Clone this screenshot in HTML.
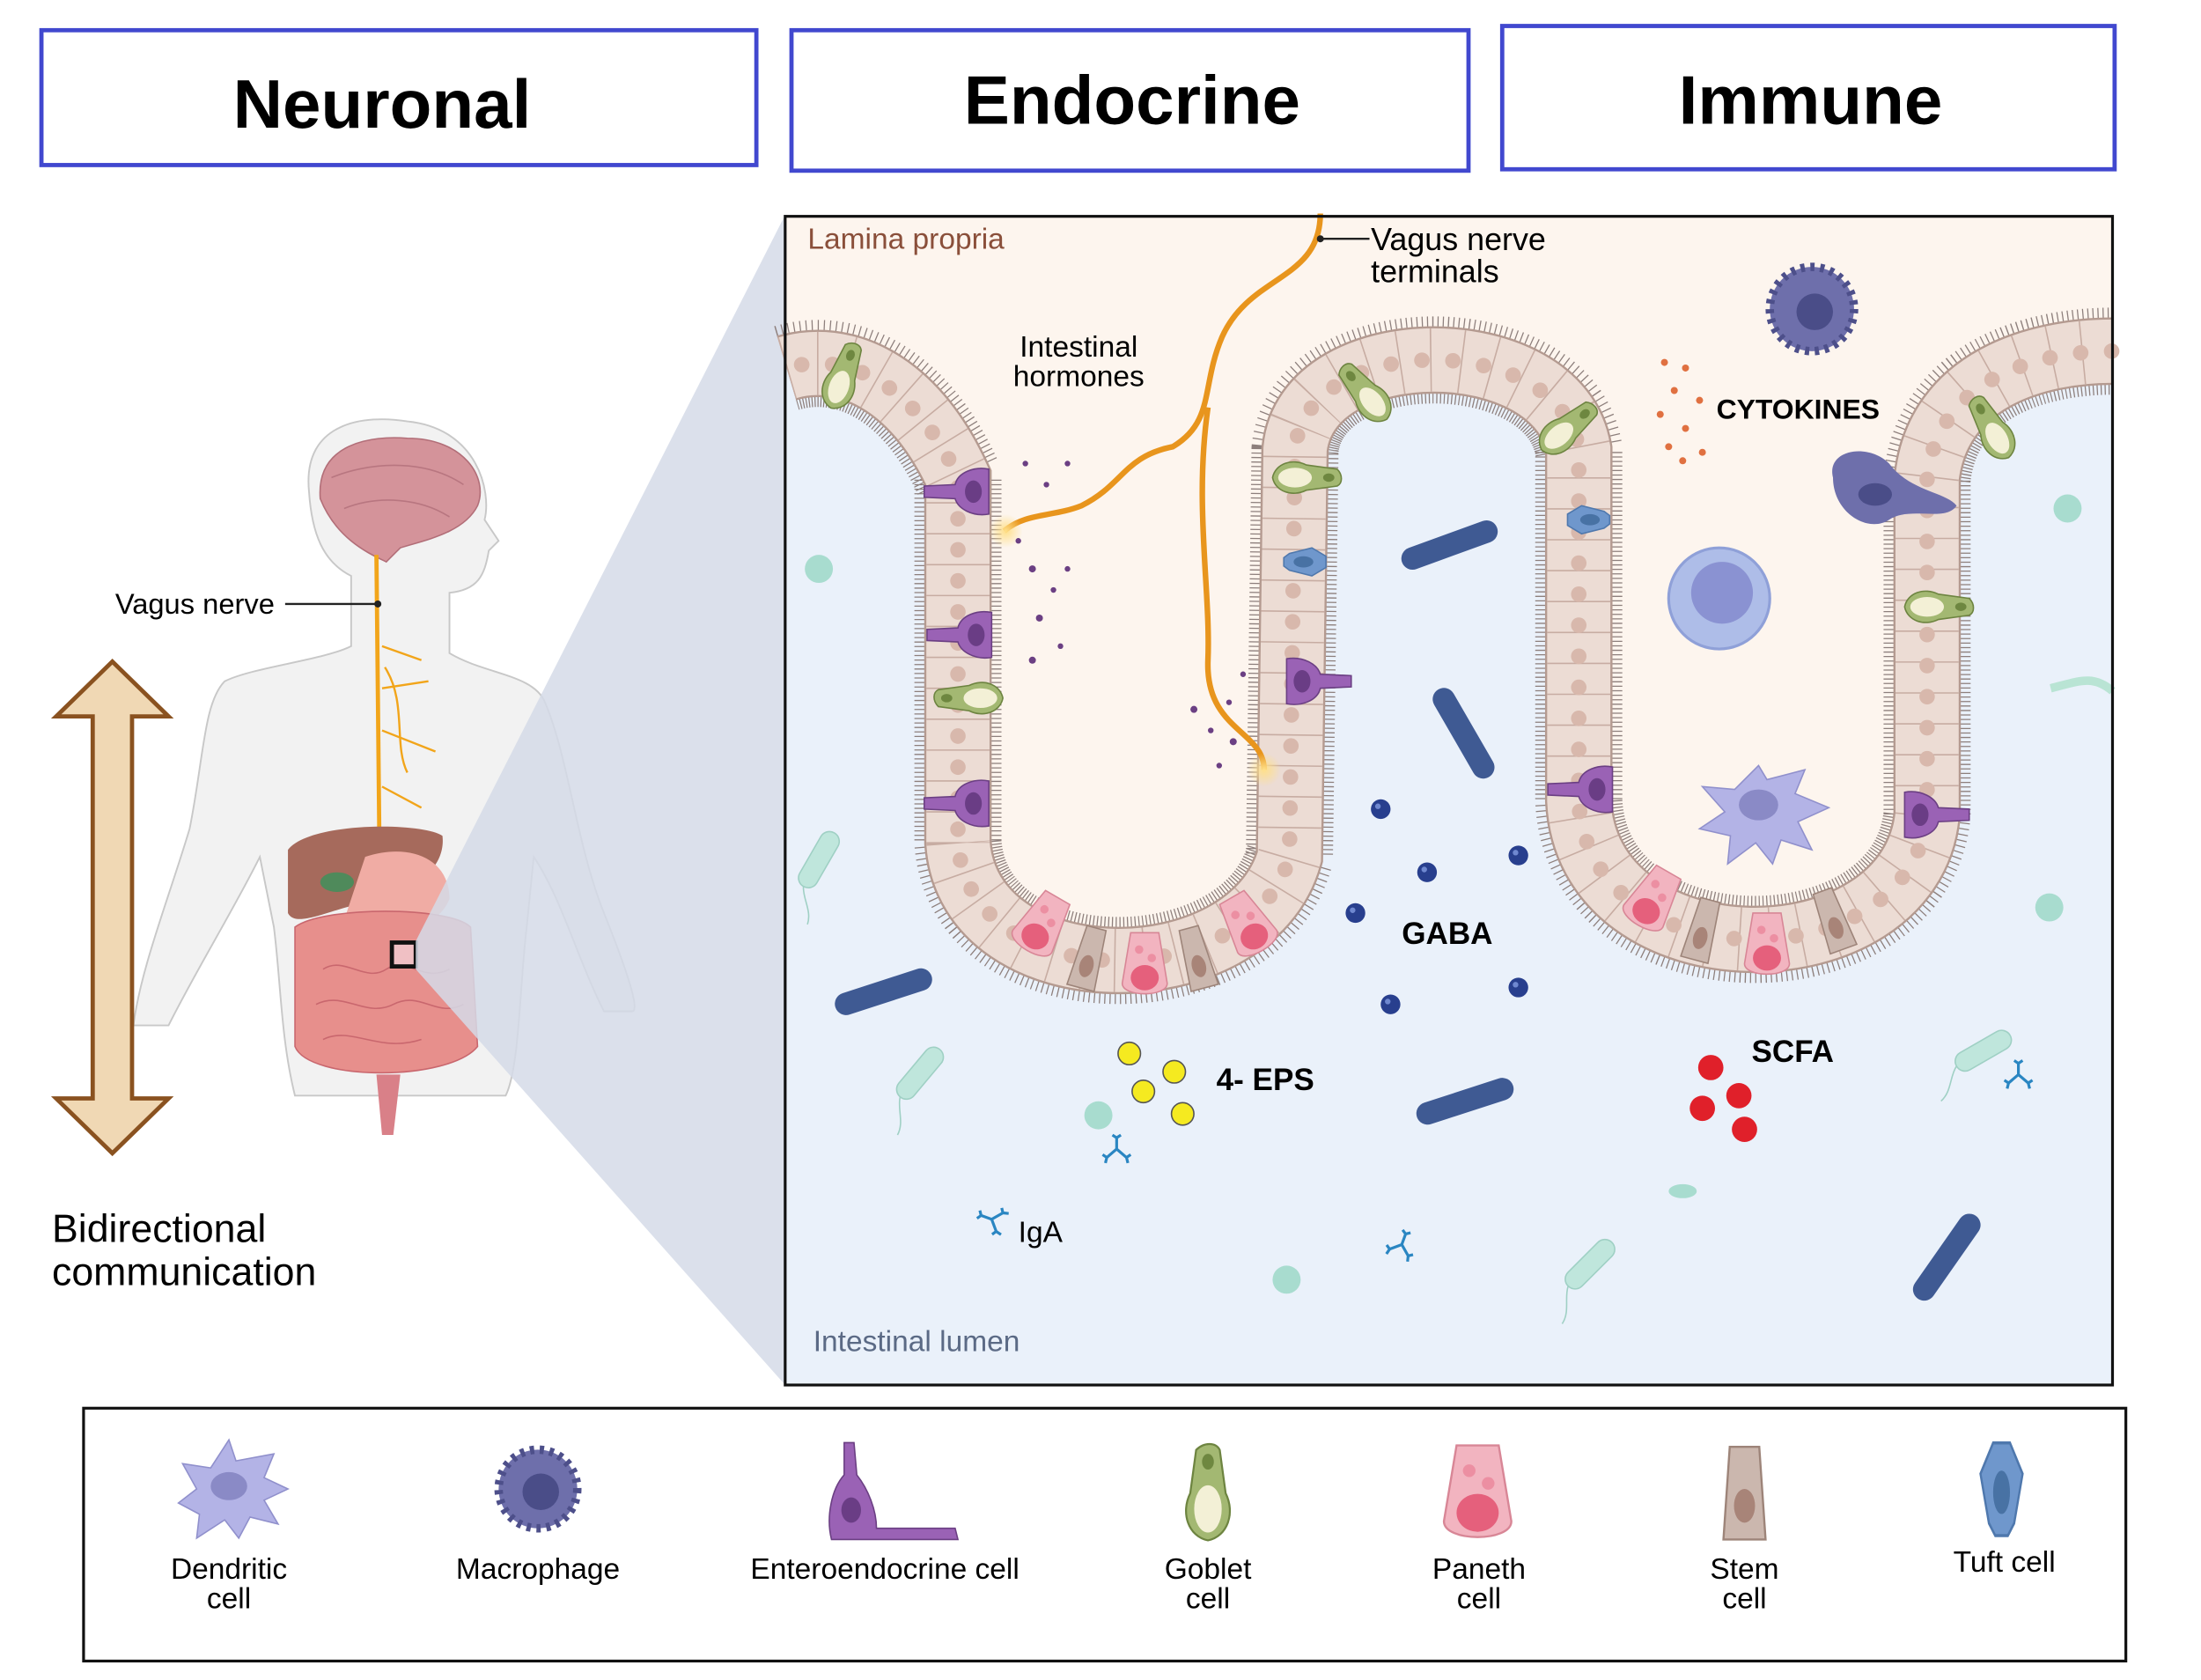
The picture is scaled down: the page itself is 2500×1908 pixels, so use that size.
<!DOCTYPE html>
<html><head><meta charset="utf-8"><style>
html,body{margin:0;padding:0;background:#fff;}
svg{display:block}
text{font-family:"Liberation Sans",sans-serif}
</style></head><body>
<svg width="2500" height="1908" viewBox="0 0 1567 1196" preserveAspectRatio="none" xmlns="http://www.w3.org/2000/svg">
<defs>
<radialGradient id="glow"><stop offset="0" stop-color="#ffe08a"/><stop offset="1" stop-color="#ffe08a" stop-opacity="0"/></radialGradient>
<g id="ee"><path d="M-4,-30 L4,-30 L5,-8 C14,-6 18,6 16,16 L-16,16 C-18,4 -12,-6 -5,-8 Z" fill="#9a62b5" stroke="#6b3f83" stroke-width="1"/><ellipse cx="0" cy="5" rx="8" ry="6" fill="#6a3d85"/></g>
<g id="gob"><path d="M-6,-22 C-2,-26 4,-26 6,-22 L9,0 C14,10 10,22 0,24 C-10,22 -14,10 -9,0 Z" fill="#a3b872" stroke="#6d8440" stroke-width="1"/><ellipse cx="0" cy="-16" rx="3" ry="4" fill="#6e8740"/><ellipse cx="0" cy="8" rx="7" ry="12" fill="#f3f0d6"/></g>
<g id="pan"><path d="M-10,-22 L10,-22 L16,14 C16,24 -16,24 -16,14 Z" fill="#f2b4c0" stroke="#d88696" stroke-width="1"/><circle cx="-4" cy="-10" r="3" fill="#ec8fa2"/><circle cx="5" cy="-4" r="3" fill="#ec8fa2"/><ellipse cx="0" cy="10" rx="10" ry="9" fill="#e5607c"/></g>
<g id="stem"><path d="M-7,-22 L7,-22 L10,22 L-10,22 Z" fill="#cbb7ae" stroke="#9d8479" stroke-width="1"/><ellipse cx="0" cy="6" rx="5" ry="8" fill="#a88478"/></g>
<g id="tuft"><path d="M-4,-14 L4,-14 L10,-4 L6,12 L3,16 L-3,16 L-6,12 L-10,-4 Z" fill="#6f97cc" stroke="#4f78ad" stroke-width="1"/><ellipse cx="0" cy="2" rx="4" ry="7" fill="#4872a4"/></g>
<g id="bac"><rect x="-36" y="-8" width="72" height="16" rx="8" fill="#3f5a93"/></g>
<g id="gb"><circle r="7" fill="#283f8e"/><circle cx="-2" cy="-2" r="2" fill="#6f88d0"/></g>
<g id="ab" stroke="#2a86c2" stroke-width="2" fill="none"><path d="M0,0 L0,-8 M0,0 L-7,6 M0,0 L7,6 M-3,-10 L0,-8 L3,-10 M-10,4 L-7,6 L-8,10 M10,4 L7,6 L8,10"/></g>
<g id="pbac"><rect x="-22" y="-7" width="44" height="14" rx="7" fill="#bfe6dc" stroke="#9fd0c4"/><path d="M-22,0 C-30,4 -34,14 -44,16" stroke="#9fd0c4" fill="none"/></g>
</defs>

<rect x="29.5" y="21.5" width="509" height="96" fill="#fff" stroke="#4148cf" stroke-width="3"/>
<text x="272" y="91" font-size="49" font-weight="bold" text-anchor="middle">Neuronal</text>
<rect x="563.5" y="21.5" width="482" height="100" fill="#fff" stroke="#4148cf" stroke-width="3"/>
<text x="806" y="88" font-size="49" font-weight="bold" text-anchor="middle">Endocrine</text>
<rect x="1069.5" y="18.5" width="436" height="102" fill="#fff" stroke="#4148cf" stroke-width="3"/>
<text x="1289" y="88" font-size="49" font-weight="bold" text-anchor="middle">Immune</text>

<path d="M220,350 C215,300 260,295 290,300 C340,305 350,350 345,370 L355,385 L348,392 C345,410 340,420 320,422 L320,465 C345,480 380,480 388,500 C405,540 410,600 430,650 C450,700 455,720 450,720 L430,720 C410,680 400,640 380,610 L375,660 C370,700 370,760 360,780 L210,780 C200,740 200,700 195,660 L185,610 C165,650 140,690 120,730 L95,730 C100,690 120,640 135,590 C145,540 145,500 160,485 C180,475 230,470 250,460 L250,410 C230,400 222,380 220,350 Z" fill="#f2f2f2" stroke="#c8c8c8" stroke-width="1.2"/>
<path d="M228,355 C225,315 265,310 290,312 C330,312 348,340 340,360 C330,380 300,385 285,390 L275,400 C265,395 240,385 228,355 Z" fill="#d4939a" stroke="#b26e78"/>
<path d="M236,340 C260,330 300,325 330,345 M245,362 C270,352 300,355 320,368" stroke="#b87680" fill="none"/>
<path d="M268,395 L270,590" stroke="#f2a51a" stroke-width="3" fill="none"/>
<path d="M272,460 L300,470 M272,490 L305,485 M272,520 L310,535 M272,560 L300,575 M274,475 C290,500 280,530 290,550" stroke="#f2a51a" stroke-width="1.5" fill="none"/>
<path d="M205,605 C220,585 300,585 315,595 C318,620 290,640 250,645 C230,650 210,660 205,650 Z" fill="#a66a5c"/>
<ellipse cx="240" cy="628" rx="12" ry="7" fill="#4f8a5b"/>
<path d="M260,610 C290,600 320,610 320,640 C310,665 270,670 245,655 C250,640 255,625 260,610 Z" fill="#f0aca4"/>
<path d="M210,660 C230,645 320,645 335,660 L340,745 C320,770 220,770 210,745 Z" fill="#e78f8c" stroke="#c9676e"/>
<path d="M230,690 C245,680 260,700 275,690 C290,680 300,700 320,690 M225,715 C245,705 260,725 280,715 C300,705 310,725 330,715 M230,740 C250,730 270,750 300,740" stroke="#c9676e" fill="none"/>
<path d="M268,765 L272,808 L280,808 L285,765 Z" fill="#d98088"/>
<rect x="279" y="671" width="17" height="17" fill="#f0c0c4" stroke="#111" stroke-width="3"/>
<line x1="203" y1="430" x2="267" y2="430" stroke="#222" stroke-width="1.5"/><circle cx="269" cy="430" r="2.5" fill="#222"/>
<text x="82" y="437" font-size="20.5">Vagus nerve</text>

<polygon points="296,670 559,153 559,986 296,690" fill="#d5dbe7" opacity="0.85"/>

<polygon points="80,471 120,510 94,510 94,782 120,782 80,821 40,782 66,782 66,510 40,510" fill="#f0d8b4" stroke="#8a5220" stroke-width="3" stroke-linejoin="miter"/>
<text x="37" y="884" font-size="28">Bidirectional</text>
<text x="37" y="915" font-size="28">communication</text>

<rect x="559" y="154" width="945" height="832" fill="#fdf5ee"/>
<path id="ep" d="M560,262 C600,250 650,270 682,340 L682,600 C690,710 890,710 918,610 L922,320 C930,235 1110,235 1124,320 L1124,570 C1130,700 1360,700 1372,580 L1372,340 C1380,270 1450,250 1504,250" fill="none"/>
<path d="M560,262 C600,250 650,270 682,340 L682,600 C690,710 890,710 918,610 L922,320 C930,235 1110,235 1124,320 L1124,570 C1130,700 1360,700 1372,580 L1372,340 C1380,270 1450,250 1504,250 L1504,986 L559,986 Z" fill="#eaf1fa"/>
<use href="#ep" stroke="#8d7f7c" stroke-width="62" stroke-dasharray="0.8 2.4"/>
<use href="#ep" stroke="#b49a90" stroke-width="48"/>
<use href="#ep" stroke="#ecdcd4" stroke-width="45"/>
<use href="#ep" stroke="#c7aca2" stroke-width="45" stroke-dasharray="1 21"/>
<use href="#ep" stroke="#d8b8ac" stroke-width="11" stroke-linecap="round" stroke-dasharray="0.1 22" stroke-dashoffset="-11"/>

<use href="#ee" transform="translate(688,350) rotate(-90)"/>
<use href="#ee" transform="translate(690,452) rotate(-90)"/>
<use href="#ee" transform="translate(688,572) rotate(-90)"/>
<use href="#ee" transform="translate(932,485) rotate(90)"/>
<use href="#ee" transform="translate(1132,562) rotate(-90)"/>
<use href="#ee" transform="translate(1372,580) rotate(90)"/>
<use href="#gob" transform="translate(600,268) rotate(20)"/>
<use href="#gob" transform="translate(690,497) rotate(-90)"/>
<use href="#gob" transform="translate(930,340) rotate(90)"/>
<use href="#gob" transform="translate(972,280) rotate(-40)"/>
<use href="#gob" transform="translate(1116,305) rotate(50)"/>
<use href="#gob" transform="translate(1380,432) rotate(90)"/>
<use href="#gob" transform="translate(1418,305) rotate(-30)"/>
<use href="#pan" transform="translate(742,658) rotate(30)"/>
<use href="#pan" transform="translate(815,686) rotate(0)"/>
<use href="#pan" transform="translate(888,658) rotate(-30)"/>
<use href="#pan" transform="translate(1177,640) rotate(30)"/>
<use href="#pan" transform="translate(1258,672)"/>
<use href="#stem" transform="translate(775,682) rotate(15)"/>
<use href="#stem" transform="translate(852,682) rotate(-15)"/>
<use href="#stem" transform="translate(1212,662) rotate(15)"/>
<use href="#stem" transform="translate(1305,655) rotate(-20)"/>
<use href="#tuft" transform="translate(930,400) rotate(90)"/>
<use href="#tuft" transform="translate(1130,370) rotate(-90)"/>

<path d="M940,152 C940,200 890,195 870,240 C855,275 865,300 835,318 C800,325 800,345 770,360 C750,368 730,365 715,378" stroke="#e8951d" stroke-width="4" fill="none"/>
<path d="M860,290 C850,360 862,420 860,470 C858,520 900,520 900,548" stroke="#e8951d" stroke-width="4" fill="none"/>
<circle cx="716" cy="378" r="12" fill="url(#glow)"/><circle cx="900" cy="548" r="12" fill="url(#glow)"/>
<line x1="940" y1="170" x2="975" y2="170" stroke="#222" stroke-width="1.5"/><circle cx="940" cy="170" r="2.5" fill="#222"/>
<text x="976" y="178" font-size="22.5">Vagus nerve</text><text x="976" y="201" font-size="22.5">terminals</text>
<text x="768" y="254" font-size="21" text-anchor="middle">Intestinal</text><text x="768" y="275" font-size="21" text-anchor="middle">hormones</text>
<text x="575" y="177" font-size="21" fill="#8a4f3a">Lamina propria</text>
<text x="579" y="962" font-size="21" fill="#5b6a85">Intestinal lumen</text>
<g fill="#6b3f83">
<circle cx="730" cy="330" r="2"/><circle cx="745" cy="345" r="2"/><circle cx="760" cy="330" r="2"/><circle cx="735" cy="405" r="2.5"/><circle cx="750" cy="420" r="2"/><circle cx="740" cy="440" r="2.5"/><circle cx="755" cy="460" r="2"/><circle cx="735" cy="470" r="2.5"/><circle cx="760" cy="405" r="2"/><circle cx="725" cy="385" r="2"/>
<circle cx="850" cy="505" r="2.5"/><circle cx="862" cy="520" r="2"/><circle cx="875" cy="500" r="2"/><circle cx="878" cy="528" r="2.5"/><circle cx="868" cy="545" r="2"/><circle cx="885" cy="480" r="2"/></g>
<g fill="#e07040"><circle cx="1185" cy="258" r="2.5"/><circle cx="1200" cy="262" r="2.5"/><circle cx="1192" cy="278" r="2.5"/><circle cx="1210" cy="285" r="2.5"/><circle cx="1182" cy="295" r="2.5"/><circle cx="1200" cy="305" r="2.5"/><circle cx="1188" cy="318" r="2.5"/><circle cx="1212" cy="322" r="2.5"/><circle cx="1198" cy="328" r="2.5"/></g>
<text x="1222" y="298" font-size="20" font-weight="bold">CYTOKINES</text>
<circle cx="1290" cy="220" r="30" fill="#6e6fab" stroke="#4d4f8a" stroke-width="6" stroke-dasharray="3 4"/>
<circle cx="1292" cy="222" r="13" fill="#4a4d88"/>
<path d="M1305,340 C1300,320 1330,315 1345,330 C1360,350 1385,350 1393,360 C1385,372 1360,360 1345,370 C1330,380 1305,365 1305,340 Z" fill="#6e6fab"/>
<ellipse cx="1335" cy="352" rx="12" ry="8" fill="#4a4d88"/>
<circle cx="1224" cy="426" r="36" fill="#aebde8" stroke="#8fa0d8" stroke-width="2"/><circle cx="1226" cy="422" r="22" fill="#8a92d2"/>
<path d="M1252,545 L1258,555 L1285,548 L1278,565 L1302,575 L1280,585 L1290,605 L1268,598 L1262,615 L1250,600 L1230,615 L1232,595 L1210,590 L1228,578 L1212,560 L1235,562 Z" fill="#b3b3e6" stroke="#9090cc"/>
<ellipse cx="1252" cy="573" rx="14" ry="11" fill="#8a8ac6"/>
<use href="#bac" transform="translate(1032,388) rotate(-20)"/>
<use href="#bac" transform="translate(1042,522) rotate(60)"/>
<use href="#bac" transform="translate(629,706) rotate(-18)"/>
<use href="#bac" transform="translate(1043,784) rotate(-18)"/>
<use href="#bac" transform="translate(1386,895) rotate(-55)"/>
<use href="#pbac" transform="translate(655,764) rotate(-50)"/>
<use href="#pbac" transform="translate(1132,900) rotate(-45)"/>
<use href="#pbac" transform="translate(1412,748) rotate(-30)"/>
<use href="#pbac" transform="translate(583,612) rotate(-60)"/>
<g fill="#a8dccf"><circle cx="583" cy="405" r="10"/><circle cx="1472" cy="362" r="10"/><circle cx="1459" cy="646" r="10"/><circle cx="916" cy="911" r="10"/><ellipse cx="1198" cy="848" rx="10" ry="5"/><circle cx="782" cy="794" r="10"/></g>
<path d="M1460,490 C1480,485 1490,480 1504,492" stroke="#b9e4d4" stroke-width="6" fill="none"/>
<use href="#gb" x="983" y="576"/><use href="#gb" x="1016" y="621"/><use href="#gb" x="1081" y="609"/><use href="#gb" x="965" y="650"/><use href="#gb" x="990" y="715"/><use href="#gb" x="1081" y="703"/>
<text x="998" y="672" font-size="22" font-weight="bold">GABA</text>
<g fill="#f5ea20" stroke="#555"><circle cx="804" cy="750" r="8"/><circle cx="836" cy="763" r="8"/><circle cx="814" cy="777" r="8"/><circle cx="842" cy="793" r="8"/></g>
<text x="866" y="776" font-size="22" font-weight="bold">4- EPS</text>
<g fill="#e0202a"><circle cx="1218" cy="760" r="9"/><circle cx="1238" cy="780" r="9"/><circle cx="1212" cy="789" r="9"/><circle cx="1242" cy="804" r="9"/></g>
<text x="1247" y="756" font-size="22" font-weight="bold">SCFA</text>
<use href="#ab" transform="translate(795,818)"/><use href="#ab" transform="translate(706,868) rotate(-70)"/><use href="#ab" transform="translate(998,886) rotate(20)"/><use href="#ab" transform="translate(1437,765)"/>
<text x="725" y="884" font-size="21">IgA</text>
<rect x="559" y="154" width="945" height="832" fill="none" stroke="#111" stroke-width="2"/>

<rect x="59.5" y="1002.5" width="1454" height="180" fill="#fff" stroke="#111" stroke-width="2"/>
<path d="M163,1025 L168,1040 L195,1035 L188,1052 L205,1060 L188,1068 L198,1085 L178,1080 L170,1095 L160,1082 L140,1095 L142,1078 L127,1070 L140,1060 L130,1042 L150,1045 Z" fill="#b3b3e6" stroke="#9090cc"/>
<ellipse cx="163" cy="1058" rx="13" ry="10" fill="#8a8ac6"/>
<g font-size="21" text-anchor="middle">
<text x="163" y="1124">Dendritic</text><text x="163" y="1145">cell</text>
<text x="383" y="1124">Macrophage</text>
<text x="630" y="1124">Enteroendocrine cell</text>
<text x="860" y="1124">Goblet</text><text x="860" y="1145">cell</text>
<text x="1053" y="1124">Paneth</text><text x="1053" y="1145">cell</text>
<text x="1242" y="1124">Stem</text><text x="1242" y="1145">cell</text>
<text x="1427" y="1119">Tuft cell</text>
</g>
<circle cx="383" cy="1060" r="28" fill="#6e6fab" stroke="#4d4f8a" stroke-width="6" stroke-dasharray="3 4"/><circle cx="385" cy="1062" r="13" fill="#4a4d88"/>
<path d="M601,1027 L608,1027 L610,1050 C618,1060 624,1075 624,1088 L680,1088 L682,1096 L592,1096 C588,1080 592,1060 601,1050 Z" fill="#9a62b5" stroke="#6b3f83"/>
<ellipse cx="606" cy="1075" rx="7" ry="9" fill="#6a3d85"/>
<g transform="translate(860,1063) scale(1.4)"><use href="#gob"/></g>
<g transform="translate(1052,1062) scale(1.5)"><use href="#pan"/></g>
<g transform="translate(1242,1063) scale(1.5)"><use href="#stem"/></g>
<g transform="translate(1425,1058) scale(1.5,2.2)"><use href="#tuft"/></g>
</svg>
</body></html>
